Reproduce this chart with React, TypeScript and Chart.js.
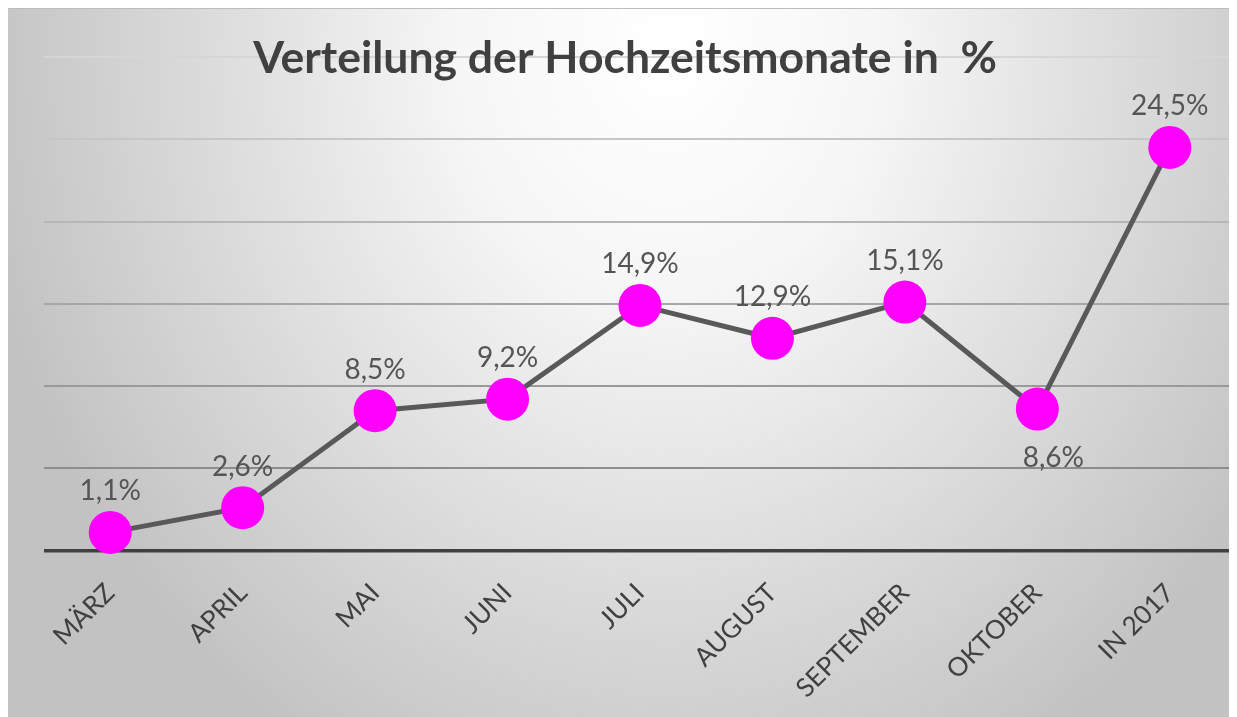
import React, { useEffect, useRef } from "react";
import { Chart, registerables } from "chart.js";

Chart.register(...registerables);

const chartTitle = "Verteilung der Hochzeitsmonate in  %";
const categories = ["MÄRZ", "APRIL", "MAI", "JUNI", "JULI", "AUGUST", "SEPTEMBER", "OKTOBER", "IN 2017"];
const shares = [1.1, 2.6, 8.5, 9.2, 14.9, 12.9, 15.1, 8.6, 24.5];
const labelBelow = [false, false, false, false, false, false, false, true, false];
const yMin = 0;
const yMax = 30;
const yStep = 5;

const gridColors: Record<number, string> = {
  0: "#404040",
  5: "#8c8c8c",
  10: "#9a9a9a",
  15: "#a6a6a6",
  20: "#b6b6b6",
  25: "#c6c6c6",
  30: "#d6d6d6",
};

const formatShare = (v: number) => v.toFixed(1).replace(".", ",") + "%";

const backgroundPlugin = {
  id: "bgGradient",
  beforeDraw(chart: any) {
    const { ctx, width, height } = chart;
    ctx.save();
    const cx = 660;
    const cy = 40;
    const rx = 700;
    const ry = 820;
    ctx.translate(cx, cy);
    ctx.scale(1, ry / rx);
    const g = ctx.createRadialGradient(0, 0, 0, 0, 0, rx);
    g.addColorStop(0, "#ffffff");
    g.addColorStop(0.3, "#f6f6f6");
    g.addColorStop(1, "#c2c2c2");
    ctx.fillStyle = g;
    ctx.fillRect(-cx, -cy * (rx / ry), width, height * (rx / ry) + 10);
    ctx.restore();
    ctx.save();
    ctx.strokeStyle = "#bdbdbd";
    ctx.lineWidth = 1;
    ctx.beginPath();
    ctx.moveTo(0, 0.5);
    ctx.lineTo(width, 0.5);
    ctx.stroke();
    ctx.restore();
  },
};

const titlePlugin = {
  id: "customTitle",
  beforeDatasetsDraw(chart: any) {
    const { ctx } = chart;
    ctx.save();
    ctx.font = "bold 44.5px Lato";
    ctx.fillStyle = "#404040";
    ctx.textAlign = "center";
    ctx.textBaseline = "alphabetic";
    ctx.fillText(chartTitle, 617, 65);
    ctx.restore();
  },
};

const valueLabelPlugin = {
  id: "valueLabels",
  afterDatasetsDraw(chart: any) {
    const { ctx } = chart;
    const meta = chart.getDatasetMeta(0);
    ctx.save();
    ctx.font = "28px Lato";
    ctx.fillStyle = "#555555";
    ctx.textAlign = "center";
    ctx.textBaseline = "alphabetic";
    meta.data.forEach((pt: any, i: number) => {
      const below = labelBelow[i];
      const x = pt.x + (below ? 16 : 0);
      const y = below ? pt.y + 58 : pt.y - 32;
      ctx.fillText(formatShare(shares[i]), x, y);
    });
    ctx.restore();
  },
};

export default function App() {
  const canvasRef = useRef<HTMLCanvasElement | null>(null);

  useEffect(() => {
    if (!canvasRef.current) return;
    const chart = new Chart(canvasRef.current, {
      type: "line",
      data: {
        labels: categories,
        datasets: [
          {
            data: shares,
            borderColor: "#595959",
            borderWidth: 5,
            pointRadius: 21.5,
            pointHoverRadius: 21.5,
            pointBackgroundColor: "#ff00ff",
            pointBorderWidth: 0,
            pointBorderColor: "#ff00ff",
            tension: 0,
            fill: false,
            clip: false,
          },
        ],
      },
      options: {
        responsive: false,
        animation: false,
        devicePixelRatio: 1,
        layout: { autoPadding: false, padding: { left: 36, right: 1, top: 49, bottom: 0 } },
        plugins: {
          legend: { display: false },
          title: { display: false },
          tooltip: { enabled: false },
        },
        scales: {
          x: {
            type: "category",
            offset: true,
            grid: { display: false, drawTicks: false },
            border: { display: false },
            ticks: {
              autoSkip: false,
              minRotation: 45,
              maxRotation: 45,
              padding: 27,
              color: "#404040",
              font: { family: "Lato", size: 26 },
            },
            afterFit: (scale: any) => {
              scale.height = 166.5;
              scale.paddingLeft = 0;
              scale.paddingRight = 0;
            },
          },
          y: {
            min: yMin,
            max: yMax,
            ticks: { display: false, stepSize: yStep },
            border: { display: false },
            grid: {
              drawTicks: false,
              color: (ctx: any) => gridColors[ctx.tick?.value] ?? "#b0b0b0",
              lineWidth: (ctx: any) => (ctx.tick?.value === 0 ? 3.5 : 2),
            },
            afterFit: (scale: any) => {
              scale.width = 0;
            },
          },
        },
      },
      plugins: [backgroundPlugin, titlePlugin, valueLabelPlugin],
    });
    return () => chart.destroy();
  }, []);

  return (
    <canvas
      ref={canvasRef}
      width={1229}
      height={709}
      style={{ display: "block", width: 1229, height: 709 }}
    />
  );
}
